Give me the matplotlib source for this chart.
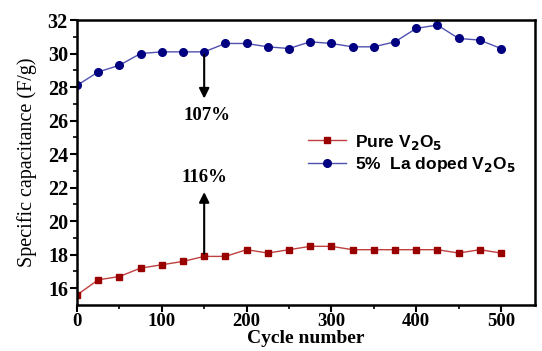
import matplotlib.pyplot as plt
import numpy as np

# cycle numbers and capacitance values
cycles = [0, 25, 50, 75, 100, 125, 150, 175, 200, 225, 250,
          275, 300, 325, 350, 375, 400, 425, 450, 475, 500]
pure_v2o5 = [15.6, 16.5, 16.7, 17.2, 17.4, 17.6, 17.9, 17.9, 18.3, 18.1, 18.3,
             18.5, 18.5, 18.3, 18.3, 18.3, 18.3, 18.3, 18.1, 18.3, 18.1]
la_doped = [28.1, 28.9, 29.3, 30.0, 30.1, 30.1, 30.1, 30.6, 30.6, 30.4, 30.3,
            30.7, 30.6, 30.4, 30.4, 30.7, 31.5, 31.7, 30.9, 30.8, 30.3]

plt.rcParams['mathtext.default'] = 'bf'

fig = plt.figure(figsize=(5.42, 3.51), dpi=100)
ax = fig.add_axes([0.142, 0.131, 0.845, 0.812])

ax.plot(cycles, pure_v2o5, color='#c04040', linewidth=1, marker='s', markersize=5,
        markerfacecolor='#990000', markeredgecolor='#990000', label=r'Pure V$_2$O$_5$')
ax.plot(cycles, la_doped, color='#5050b0', linewidth=1, marker='o', markersize=5.5,
        markerfacecolor='#000080', markeredgecolor='#000080', label=r'5%  La doped V$_2$O$_5$')

# retention arrows
ax.annotate('', xy=(150, 27.15), xytext=(150, 30.1),
            arrowprops=dict(arrowstyle='-|>', color='black', lw=1.5, mutation_scale=15))
ax.annotate('', xy=(150, 21.9), xytext=(150, 17.9),
            arrowprops=dict(arrowstyle='-|>', color='black', lw=1.5, mutation_scale=15))
ax.text(153, 26.3, '107%', ha='center', va='center', fontsize=13.5, fontweight='bold',
        family='Liberation Serif')
ax.text(150, 22.6, '116%', ha='center', va='center', fontsize=13.5, fontweight='bold',
        family='Liberation Serif')

ax.set_xlim(0, 540)
ax.set_ylim(15, 32)
ax.set_xticks([0, 100, 200, 300, 400, 500])
ax.set_yticks(np.arange(16, 33, 2))
ax.set_xticks(np.arange(50, 540, 100), minor=True)
ax.set_yticks(np.arange(17, 32, 2), minor=True)

for lab in ax.get_yticklabels():
    lab.set_fontfamily('Liberation Serif')
    lab.set_fontweight('bold')
    lab.set_fontsize(14.5)
for lab in ax.get_xticklabels():
    lab.set_fontfamily('Liberation Serif')
    lab.set_fontweight('bold')
    lab.set_fontsize(13.5)

ax.tick_params(which='major', direction='out', length=5, width=1.5, pad=1.5)
ax.tick_params(axis='x', which='major', pad=0.5)
ax.tick_params(which='minor', direction='out', length=3, width=1.2)
for s in ax.spines.values():
    s.set_linewidth(1.8)

ax.set_xlabel('Cycle number', family='Liberation Serif', fontweight='bold',
              fontsize=14, labelpad=0)
ax.set_ylabel('Specific capacitance (F/g)', family='Liberation Serif',
              fontsize=14.5, labelpad=8)

ax.legend(loc='upper left', bbox_to_anchor=(0.47, 0.66), frameon=False,
          prop={'family': 'Liberation Sans', 'weight': 'bold', 'size': 12.5},
          handlelength=2.2, handletextpad=0.5, labelspacing=0.2)

plt.savefig('out.png', dpi=100)
